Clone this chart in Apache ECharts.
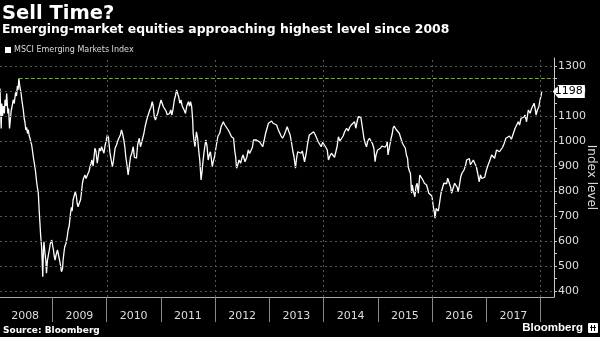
<!DOCTYPE html>
<html><head><meta charset="utf-8">
<script src="https://cdn.jsdelivr.net/npm/echarts@6/dist/echarts.min.js"></script>
<style>html,body{margin:0;padding:0;background:#000;}#c{width:600px;height:337px;}</style>
</head><body><div id="c"></div>
<script>
const years = ['2008','2009','2010','2011','2012','2013','2014','2015','2016','2017'];
const yTickLabels = [400,500,600,700,800,900,1000,1100,1200,1300];
const yTicks = [400,450,500,550,600,650,700,750,800,850,900,950,1000,1050,1100,1150,1200,1250,1300];
const vGridDates = ['2010-01-01','2012-01-01','2014-01-01','2016-01-01','2018-01-01'];
const priorHigh = 1250;
const priorHighDate = '2008-05-19';
const lastLabel = 1198;
const dates = [
'2008-01-13','2008-01-17','2008-01-21','2008-01-25','2008-01-30','2008-02-05','2008-02-11','2008-02-16','2008-02-22','2008-02-27',
'2008-03-06','2008-03-11','2008-03-17','2008-03-22','2008-03-28','2008-04-04','2008-04-11','2008-04-18','2008-04-27','2008-05-03',
'2008-05-09','2008-05-14','2008-05-19','2008-05-26','2008-06-02','2008-06-09','2008-06-18','2008-06-24','2008-06-29','2008-07-05',
'2008-07-10','2008-07-16','2008-07-21','2008-07-28','2008-08-02','2008-08-08','2008-08-13','2008-08-19','2008-08-24','2008-09-03',
'2008-09-08','2008-09-12','2008-09-17','2008-09-22','2008-09-27','2008-10-03','2008-10-08','2008-10-13','2008-10-19','2008-10-23',
'2008-10-27','2008-10-31','2008-11-04','2008-11-08','2008-11-11','2008-11-17','2008-11-21','2008-11-27','2008-12-04','2008-12-10',
'2008-12-17','2008-12-26',
'2009-01-07','2009-01-12','2009-01-18','2009-01-25','2009-02-03','2009-02-09','2009-02-17','2009-02-24','2009-03-02','2009-03-09',
'2009-03-13','2009-03-19','2009-03-24','2009-04-01','2009-04-08','2009-04-16','2009-04-23','2009-05-02','2009-05-08','2009-05-13',
'2009-05-19','2009-05-27','2009-06-03','2009-06-10','2009-06-16','2009-06-22','2009-06-29','2009-07-08','2009-07-14','2009-07-21',
'2009-07-28','2009-08-07','2009-08-14','2009-08-22','2009-08-28','2009-09-04','2009-09-10','2009-09-17','2009-09-23','2009-10-01',
'2009-10-08','2009-10-13','2009-10-20','2009-10-29','2009-11-05','2009-11-12','2009-11-20','2009-11-27','2009-12-03','2009-12-13',
'2009-12-20','2009-12-28',
'2010-01-05','2010-01-12','2010-01-23','2010-01-29','2010-02-08','2010-02-15','2010-02-26','2010-03-08','2010-03-18','2010-03-26',
'2010-04-03','2010-04-10','2010-04-17','2010-04-26','2010-05-04','2010-05-09','2010-05-18','2010-05-25','2010-06-02','2010-06-10',
'2010-06-18','2010-06-28','2010-07-06','2010-07-12','2010-07-20','2010-07-28','2010-08-08','2010-08-16','2010-08-28','2010-09-08',
'2010-09-16','2010-09-25','2010-10-03','2010-10-10','2010-10-18','2010-10-26','2010-11-03','2010-11-10','2010-11-17','2010-11-25',
'2010-12-03','2010-12-10','2010-12-15','2010-12-22',
'2011-01-01','2011-01-10','2011-01-17','2011-01-25','2011-02-04','2011-02-12','2011-02-20','2011-02-28','2011-03-08','2011-03-16',
'2011-03-24','2011-04-01','2011-04-08','2011-04-16','2011-04-25','2011-05-01','2011-05-08','2011-05-16','2011-05-24','2011-06-06',
'2011-06-15','2011-06-24','2011-07-05','2011-07-12','2011-07-19','2011-07-27','2011-08-03','2011-08-06','2011-08-12','2011-08-18',
'2011-08-28','2011-09-05','2011-09-12','2011-09-20','2011-09-28','2011-10-05','2011-10-12','2011-10-20','2011-10-30','2011-11-07',
'2011-11-15','2011-11-23','2011-11-30','2011-12-06','2011-12-13','2011-12-20','2011-12-28',
'2012-01-07','2012-01-20','2012-02-01','2012-02-10','2012-02-25','2012-03-05','2012-03-15','2012-03-29','2012-04-10','2012-04-20',
'2012-05-04','2012-05-12','2012-05-18','2012-05-24','2012-06-01','2012-06-10','2012-06-20','2012-07-01','2012-07-07','2012-07-20',
'2012-08-01','2012-08-11','2012-08-20','2012-08-30','2012-09-08','2012-09-15','2012-09-25','2012-10-05','2012-10-15','2012-10-28',
'2012-11-06','2012-11-16','2012-11-25','2012-12-06','2012-12-15','2012-12-25',
'2013-01-05','2013-01-15','2013-01-25','2013-02-05','2013-02-18','2013-03-01','2013-03-10','2013-03-20','2013-03-30','2013-04-10',
'2013-04-20','2013-04-30','2013-05-10','2013-05-20','2013-05-30','2013-06-07','2013-06-15','2013-06-25','2013-07-02','2013-07-10',
'2013-07-20','2013-08-01','2013-08-10','2013-08-25','2013-09-05','2013-09-15','2013-09-26','2013-10-10','2013-10-25','2013-11-05',
'2013-11-15','2013-11-25','2013-12-05','2013-12-15','2013-12-25',
'2014-01-05','2014-01-15','2014-01-25','2014-02-02','2014-02-12','2014-02-22','2014-03-05','2014-03-15','2014-03-25','2014-04-01',
'2014-04-10','2014-04-20','2014-05-01','2014-05-12','2014-05-22','2014-06-04','2014-06-15','2014-06-25','2014-07-05','2014-07-15',
'2014-07-28','2014-08-05','2014-08-15','2014-08-22','2014-09-02','2014-09-08','2014-09-16','2014-09-29','2014-10-08','2014-10-16',
'2014-10-25','2014-11-05','2014-11-15','2014-11-25','2014-12-05','2014-12-13','2014-12-20','2014-12-30',
'2015-01-08','2015-01-18','2015-01-28','2015-02-08','2015-02-18','2015-02-28','2015-03-05','2015-03-10','2015-03-20','2015-03-31',
'2015-04-08','2015-04-13','2015-04-20','2015-04-25','2015-05-05','2015-05-15','2015-05-25','2015-06-05','2015-06-15','2015-06-25',
'2015-07-05','2015-07-12','2015-07-20','2015-07-24','2015-08-01','2015-08-08','2015-08-16','2015-08-20','2015-08-28','2015-09-07',
'2015-09-15','2015-09-22','2015-09-30','2015-10-10','2015-10-20','2015-10-30','2015-11-10','2015-11-25','2015-12-10','2015-12-20',
'2015-12-31',
'2016-01-09','2016-01-15','2016-01-21','2016-01-28','2016-02-05','2016-02-12','2016-02-20','2016-03-01','2016-03-10','2016-03-20',
'2016-03-31','2016-04-08','2016-04-15','2016-04-25','2016-05-05','2016-05-11','2016-05-20','2016-06-01','2016-06-12','2016-06-18',
'2016-06-25','2016-07-05','2016-07-12','2016-07-20','2016-08-03','2016-08-12','2016-08-21','2016-09-01','2016-09-08','2016-09-15',
'2016-09-25','2016-10-05','2016-10-15','2016-10-25','2016-11-03','2016-11-13','2016-11-22','2016-12-01','2016-12-11','2016-12-20',
'2017-01-01','2017-01-12','2017-01-25','2017-02-05','2017-02-15','2017-02-25','2017-03-10','2017-03-20','2017-03-30','2017-04-10',
'2017-04-20','2017-05-01','2017-05-12','2017-05-25','2017-06-05','2017-06-18','2017-06-28','2017-07-13','2017-07-20','2017-08-03',
'2017-08-12','2017-08-22','2017-08-30','2017-09-10','2017-09-18','2017-09-28','2017-10-10','2017-10-22','2017-11-01','2017-11-08',
'2017-11-18','2017-11-25','2017-12-01','2017-12-10','2017-12-20','2017-12-28','2018-01-05','2018-01-09'
];
const values = [
1210,1120,1050,1150,1100,1140,1110,1165,1140,1190,
1110,1130,1050,1080,1120,1140,1165,1150,1195,1180,
1220,1205,1250,1215,1195,1160,1124,1090,1075,1044,
1055,1030,1045,1020,1011,995,985,960,937,900,
880,857,830,810,791,720,671,620,577,520,
457,560,597,570,551,520,471,520,545,564,
590,604,
564,540,524,545,564,570,524,500,477,490,
524,555,577,590,610,644,660,711,735,720,
764,770,797,780,750,737,750,764,790,831,
850,864,850,844,870,880,897,910,924,900,
940,971,960,911,940,971,960,977,975,951,
980,1000,
1024,1015,951,930,897,920,971,985,1004,1010,
1025,1044,1030,1004,970,937,900,864,900,937,
950,977,935,940,931,985,1011,977,1004,1030,
1057,1080,1097,1105,1124,1135,1157,1140,1097,1084,
1100,1110,1124,1140,
1164,1150,1137,1144,1120,1105,1097,1110,1124,1104,
1130,1164,1180,1204,1197,1175,1151,1164,1140,1124,
1110,1140,1157,1140,1157,1137,1080,1031,1000,977,
1037,1010,964,920,844,880,924,964,1004,980,
924,945,957,930,897,920,937,
977,1020,1031,1057,1077,1065,1057,1044,1030,1017,
1011,960,937,891,905,924,911,935,944,917,
935,964,950,944,975,1004,1000,1004,997,995,
991,977,1000,1031,1050,1071,
1077,1080,1071,1075,1064,1045,1037,1020,1011,1024,
1040,1057,1040,1024,991,960,937,891,930,957,
964,951,960,917,950,991,1024,1030,1037,1025,
1017,997,990,977,995,
991,975,964,924,940,951,944,935,960,977,
1017,1000,1004,1020,1037,1051,1040,1055,1064,1070,
1077,1051,1080,1097,1104,1095,1064,1011,990,977,
1000,1011,1004,990,971,917,945,964,
964,971,980,984,975,984,997,944,975,1011,
1030,1051,1060,1064,1045,1037,1031,1010,991,985,
971,944,930,897,880,871,791,824,800,777,
820,831,791,864,864,845,831,824,791,797,
780,
737,720,691,730,737,720,751,791,811,831,
824,830,851,845,815,791,797,831,837,815,
797,830,857,871,884,900,924,917,930,905,
911,924,910,897,871,837,864,850,844,855,
884,904,924,944,940,931,964,960,957,964,
975,991,1011,1015,1020,1007,1015,1051,1044,1077,
1064,1091,1084,1095,1104,1077,1124,1111,1130,1137,
1151,1130,1104,1124,1137,1164,1185,1198
];
const seriesData = dates.map((d, i) => [d, values[i]]);
const lastDate = dates[dates.length - 1];

const chart = echarts.init(document.getElementById('c'), null, {renderer: 'canvas'});
const FONT = 'DejaVu Sans';
chart.setOption({
  backgroundColor: '#000',
  animation: false,
  title: [
    {text: 'Sell Time?', left: 2, top: 4, padding: 0, textStyle: {color: '#fff', fontFamily: FONT, fontWeight: 'bold', fontSize: 19.5}},
    {text: 'Emerging-market equities approaching highest level since 2008', left: 2, top: 24, padding: 0, textStyle: {color: '#fff', fontFamily: FONT, fontWeight: 'bold', fontSize: 12.4}},
    {text: 'Source: Bloomberg', left: 3, top: 326, padding: 0, textStyle: {color: '#fff', fontFamily: FONT, fontWeight: 'bold', fontSize: 9}},
    {text: 'Bloomberg', right: 17, top: 322, padding: 0, textStyle: {color: '#fff', fontFamily: 'Liberation Sans', fontWeight: 'bold', fontSize: 11.5}}
  ],
  legend: {
    data: ['MSCI Emerging Markets Index'], left: 5, top: 46, padding: 0, icon: 'rect', itemWidth: 6, itemHeight: 6, itemGap: 4,
    textStyle: {color: '#ddd', fontFamily: FONT, fontSize: 8, padding: [0,0,0,-2]}
  },
  grid: [
    {left: 0, right: 46, top: 58, bottom: 40, containLabel: false, outerBoundsMode: 'none'},
    {left: -2, right: 59.5, top: 58, bottom: 40, containLabel: false, outerBoundsMode: 'none'}
  ],
  xAxis: [
    {type: 'time', gridIndex: 0, min: '2008-01-13', max: '2018-04-01',
     axisLine: {show: true, lineStyle: {color: '#aaa', width: 1}}, axisTick: {show: false}, axisLabel: {show: false}, splitLine: {show: false}},
    {type: 'category', gridIndex: 1, data: years, boundaryGap: true, position: 'bottom',
     axisLine: {show: false}, axisTick: {show: true, length: 25, interval: 0, lineStyle: {color: '#888'}},
     axisLabel: {color: '#ddd', fontFamily: FONT, fontSize: 11, margin: 14, interval: 0}, splitLine: {show: false}}
  ],
  yAxis: [
    {type: 'value', gridIndex: 0, position: 'right', min: 376, max: 1332,
     axisLine: {show: true, lineStyle: {color: '#ccc'}},
     axisTick: {show: true, length: 3, customValues: yTicks, lineStyle: {color: '#ccc'}},
     axisLabel: {color: '#ddd', fontFamily: FONT, fontSize: 11, margin: 4, customValues: yTickLabels, formatter: v => String(v)},
     splitLine: {show: false},
     name: 'Index level', nameLocation: 'middle', nameRotate: -90, nameGap: 31, nameMoveOverlap: false,
     nameTextStyle: {color: '#ddd', fontFamily: FONT, fontSize: 12}},
    {type: 'value', gridIndex: 1, show: false}
  ],
  series: [
    {
      name: 'grid', type: 'line', data: seriesData, xAxisIndex: 0, yAxisIndex: 0, symbol: 'none',
      lineStyle: {opacity: 0}, silent: true, z: 1,
      markLine: {
        silent: true, symbol: 'none', label: {show: false}, animation: false,
        lineStyle: {color: '#555', type: [2, 3], width: 1},
        data: yTickLabels.map(v => ({yAxis: v})).concat(vGridDates.map(d => ({xAxis: d})))
      }
    },
    {
      name: 'MSCI Emerging Markets Index', type: 'line', data: seriesData, xAxisIndex: 0, yAxisIndex: 0,
      symbol: 'none', color: '#fff', lineStyle: {color: '#fff', width: 1.3}, z: 3,
      markLine: {
        silent: true, symbol: 'none', label: {show: false},
        lineStyle: {color: '#6fae1e', type: [4, 2], width: 1},
        data: [[{coord: [priorHighDate, priorHigh]}, {coord: ['2018-04-01', priorHigh]}]]
      },
      markPoint: {
        silent: true,
        symbol: 'path://M0,6 L6,0 L36,0 L36,12 L6,12 Z', symbolSize: [32, 13], symbolOffset: [27, 0],
        itemStyle: {color: '#fff'},
        label: {show: true, position: 'inside', color: '#000', fontFamily: FONT, fontSize: 11, formatter: String(lastLabel)},
        data: [{coord: [lastDate, lastLabel]}]
      }
    }
  ],
  graphic: [
    {type: 'rect', left: 588, top: 323, shape: {width: 10, height: 10, r: 1}, style: {fill: '#fff'}},
    {type: 'rect', left: 590, top: 327, shape: {width: 6, height: 1}, style: {fill: '#000'}},
    {type: 'rect', left: 591, top: 325, shape: {width: 1, height: 6}, style: {fill: '#000'}},
    {type: 'rect', left: 594, top: 325, shape: {width: 1, height: 6}, style: {fill: '#000'}}
  ]
});
</script></body></html>
